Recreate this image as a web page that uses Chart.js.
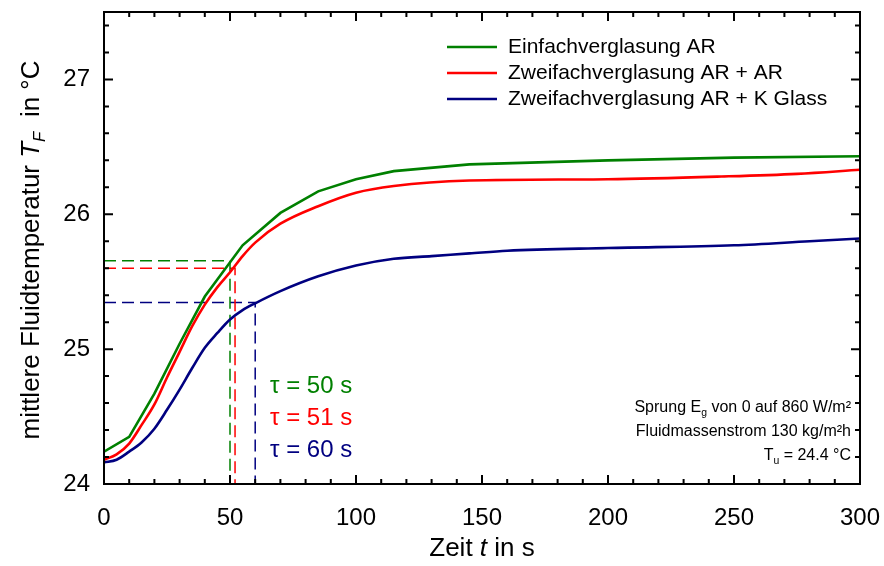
<!DOCTYPE html>
<html>
<head>
<meta charset="utf-8">
<script src="https://cdn.jsdelivr.net/npm/chart.js@4.4.1/dist/chart.umd.min.js"></script>
<style>
  html, body { margin: 0; padding: 0; background: #fff; }
  #wrap { width: 884px; height: 566px; }
</style>
</head>
<body>
<div id="wrap"><canvas id="c" width="884" height="566"></canvas></div>
<script>
// time in s
var tGreen = [0, 10, 20, 30, 40, 55, 70, 85, 100, 115, 145, 200, 250, 300];
var vGreen = [24.24, 24.35, 24.67, 25.04, 25.39, 25.77, 26.01, 26.17, 26.26, 26.32, 26.37, 26.40, 26.42, 26.43];

var tRed = [0, 5, 10, 15, 20, 25, 30, 35, 40, 45, 50, 55, 60, 70, 85, 100, 115, 145, 200, 245, 275, 300];
var vRed = [24.18, 24.22, 24.30, 24.44, 24.59, 24.79, 24.98, 25.17, 25.33, 25.46, 25.57, 25.69, 25.79, 25.93, 26.06, 26.16, 26.21, 26.25, 26.26, 26.28, 26.30, 26.33];

var tBlue = [0, 5, 10, 15, 20, 25, 30, 35, 40, 45, 50, 55, 60, 70, 85, 100, 115, 130, 145, 160, 200, 250, 280, 300];
var vBlue = [24.16, 24.18, 24.24, 24.31, 24.41, 24.55, 24.70, 24.86, 25.01, 25.12, 25.22, 25.29, 25.34, 25.43, 25.54, 25.62, 25.67, 25.69, 25.71, 25.73, 25.75, 25.77, 25.80, 25.82];

var seriesNames = ['Einfachverglasung AR', 'Zweifachverglasung AR + AR', 'Zweifachverglasung AR + K Glass'];
var seriesColors = ['#008000', '#ff0000', '#000080'];

// time constants: label value, dashed line position and level
var tauLabels = [50, 51, 60];
var tauLineX = [50, 52, 60];
var tauLevel = [25.655, 25.60, 25.345];

var xTicks = [0, 50, 100, 150, 200, 250, 300];
var yTicks = [24, 25, 26, 27];

var font = '"Liberation Sans", Arial, sans-serif';

function pts(t, v) {
  return t.map(function(x, i) { return { x: x, y: v[i] }; });
}

var datasets = [];
[[tGreen, vGreen], [tRed, vRed], [tBlue, vBlue]].forEach(function(s, i) {
  datasets.push({
    label: seriesNames[i],
    data: pts(s[0], s[1]),
    borderColor: seriesColors[i],
    borderWidth: 2.6,
    pointRadius: 0,
    tension: 0,
    cubicInterpolationMode: i == 0 ? 'default' : 'monotone'
  });
});
tauLineX.forEach(function(tx, i) {
  datasets.push({
    label: 'tau' + i,
    data: [{ x: 0, y: tauLevel[i] }, { x: tx, y: tauLevel[i] }, { x: tx, y: 24 }],
    borderColor: seriesColors[i],
    borderWidth: 1.5,
    borderDash: [12, 6],
    pointRadius: 0,
    tension: 0
  });
});

// a row of text pieces, each {t, italic, sub}
function pieces(ctx, parts, size) {
  var w = 0;
  parts.forEach(function(p) {
    ctx.font = (p.italic ? 'italic ' : '') + (p.sub ? size * 0.65 : size) + 'px ' + font;
    p.w = ctx.measureText(p.t).width;
    w += p.w;
  });
  return w;
}
function drawPieces(ctx, parts, size, x, y) {
  parts.forEach(function(p) {
    ctx.font = (p.italic ? 'italic ' : '') + (p.sub ? size * 0.65 : size) + 'px ' + font;
    ctx.fillText(p.t, x, p.sub ? y + size * 0.3 : y);
    x += p.w;
  });
}

var framePlugin = {
  id: 'frame',
  afterDraw: function(chart) {
    var ctx = chart.ctx, a = chart.chartArea;
    var xs = chart.scales.x, ys = chart.scales.y;
    ctx.save();
    ctx.strokeStyle = '#000';
    ctx.lineWidth = 2;
    ctx.strokeRect(a.left, a.top, a.right - a.left, a.bottom - a.top);

    // inward ticks on all four sides
    var v, p, len;
    for (v = 0; v <= 300; v += 10) {
      p = xs.getPixelForValue(v);
      len = v % 50 == 0 ? 9 : 5;
      ctx.beginPath();
      ctx.moveTo(p, a.bottom); ctx.lineTo(p, a.bottom - len);
      ctx.moveTo(p, a.top); ctx.lineTo(p, a.top + len);
      ctx.stroke();
    }
    for (var k = 0; k <= 17; k++) {
      v = 24 + k * 0.2;
      p = ys.getPixelForValue(v);
      len = k % 5 == 0 ? 9 : 5;
      ctx.beginPath();
      ctx.moveTo(a.left, p); ctx.lineTo(a.left + len, p);
      ctx.moveTo(a.right, p); ctx.lineTo(a.right - len, p);
      ctx.stroke();
    }

    ctx.fillStyle = '#000';
    ctx.textBaseline = 'middle';

    // axis titles
    var xt = [{ t: 'Zeit ' }, { t: 't', italic: true }, { t: ' in s' }];
    var w = pieces(ctx, xt, 26);
    drawPieces(ctx, xt, 26, 482 - w / 2, 549);

    var yt = [{ t: 'mittlere Fluidtemperatur ' }, { t: 'T', italic: true }, { t: 'F', italic: true, sub: true }, { t: '  in °C' }];
    ctx.save();
    ctx.translate(32, 250);
    ctx.rotate(-Math.PI / 2);
    w = pieces(ctx, yt, 26);
    drawPieces(ctx, yt, 26, -w / 2, 0);
    ctx.restore();

    // legend
    for (var i = 0; i < 3; i++) {
      var ly = 47 + i * 26;
      ctx.strokeStyle = seriesColors[i];
      ctx.lineWidth = 2.6;
      ctx.beginPath();
      ctx.moveTo(447, ly); ctx.lineTo(497, ly);
      ctx.stroke();
      ctx.font = '21px ' + font;
      ctx.fillText(seriesNames[i], 508, ly);
    }

    // tau labels
    ctx.font = '24px ' + font;
    for (i = 0; i < 3; i++) {
      ctx.fillStyle = seriesColors[i];
      ctx.fillText('\u03c4 = ' + tauLabels[i] + ' s', 270, 386 + i * 32);
    }

    // conditions box
    ctx.fillStyle = '#000';
    var notes = [
      [{ t: 'Sprung E' }, { t: 'g', sub: true }, { t: ' von 0 auf 860 W/m²' }],
      [{ t: 'Fluidmassenstrom 130 kg/m²h' }],
      [{ t: 'T' }, { t: 'u', sub: true }, { t: ' = 24.4 °C' }]
    ];
    notes.forEach(function(n, j) {
      var nw = pieces(ctx, n, 16);
      drawPieces(ctx, n, 16, 851 - nw, 408 + j * 24);
    });
    ctx.restore();
  }
};

new Chart(document.getElementById('c'), {
  type: 'line',
  data: { datasets: datasets },
  options: {
    responsive: false,
    animation: false,
    layout: { padding: { top: 12, right: 24, left: 0, bottom: 0 } },
    plugins: { legend: { display: false }, tooltip: { enabled: false } },
    scales: {
      x: {
        type: 'linear', min: 0, max: 300,
        afterBuildTicks: function(s) { s.ticks = xTicks.map(function(v) { return { value: v }; }); },
        afterFit: function(s) { s.height = 82; s.paddingLeft = 0; s.paddingRight = 0; },
        grid: { display: false, drawTicks: false },
        border: { display: false },
        ticks: { color: '#000', padding: 20, maxRotation: 0, font: { family: font, size: 24 } }
      },
      y: {
        type: 'linear', min: 24, max: 27.5,
        afterBuildTicks: function(s) { s.ticks = yTicks.map(function(v) { return { value: v }; }); },
        afterFit: function(s) { s.width = 104; s.paddingTop = 0; s.paddingBottom = 0; },
        grid: { display: false, drawTicks: false },
        border: { display: false },
        ticks: { color: '#000', padding: 14, font: { family: font, size: 24 } }
      }
    }
  },
  plugins: [framePlugin]
});
</script>
</body>
</html>
